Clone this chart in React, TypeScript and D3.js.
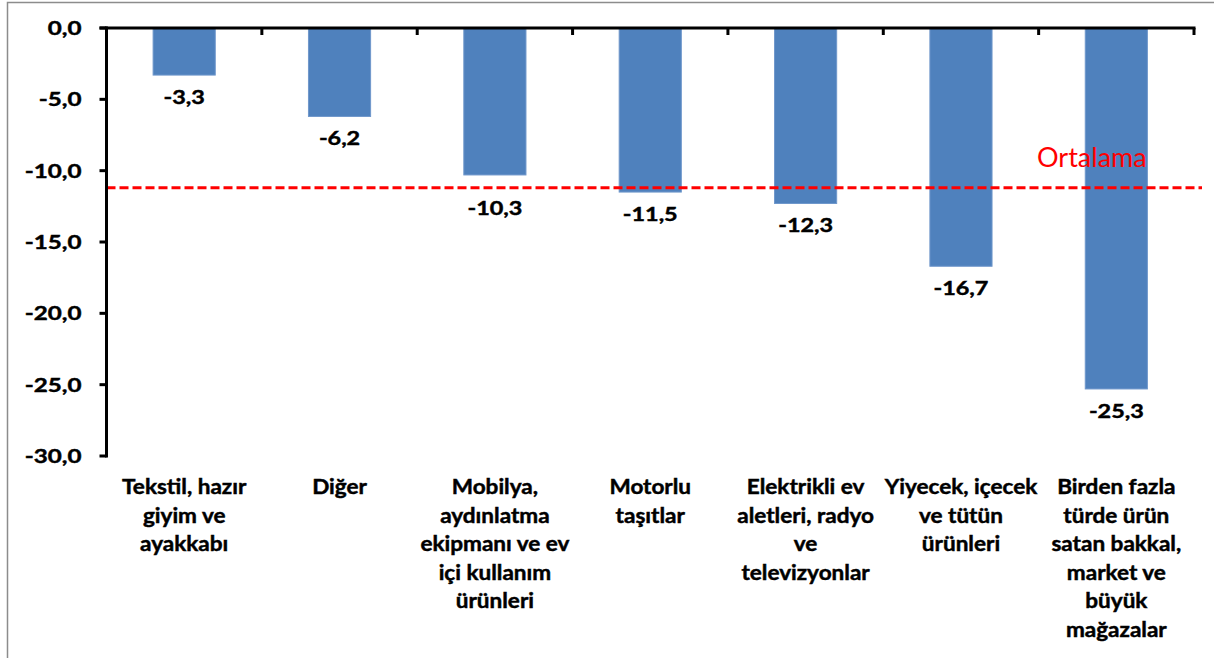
import React, { useMemo } from "react";
import * as d3 from "d3";

const WIDTH = 1214;
const HEIGHT = 658;

const categories = [
  ["Tekstil, hazır", "giyim ve", "ayakkabı"],
  ["Diğer"],
  ["Mobilya,", "aydınlatma", "ekipmanı ve ev", "içi kullanım", "ürünleri"],
  ["Motorlu", "taşıtlar"],
  ["Elektrikli ev", "aletleri, radyo", "ve", "televizyonlar"],
  ["Yiyecek, içecek", "ve tütün", "ürünleri"],
  ["Birden fazla", "türde ürün", "satan bakkal,", "market ve", "büyük", "mağazalar"],
];
const values = [-3.3, -6.2, -10.3, -11.5, -12.3, -16.7, -25.3];
const average = -11.2;
const averageLabel = "Ortalama";
const yTicks = [0, -5, -10, -15, -20, -25, -30];

const FONT = "Lato, 'Open Sans', sans-serif";
const fmt = (v: number) => v.toFixed(1).replace(".", ",");

// bold text, a bit wider and heavier than Lato to look like the original
const Bold = ({ x, y, size, sx, anchor, children }: any) => (
  <text
    transform={`translate(${x},${y}) scale(${sx},1)`}
    textAnchor={anchor}
    fontSize={size}
    fontWeight="bold"
    fill="#000"
    stroke="#000"
    strokeWidth={0.45}
  >
    {children}
  </text>
);

const App = () => {
  const left = 106.5;
  const right = 1194;
  const top = 28;
  const bottom = 456;

  const x = useMemo(
    () =>
      d3
        .scaleBand<number>()
        .domain(values.map((_, i) => i))
        .range([left, right])
        .paddingInner(0.6)
        .paddingOuter(0.3),
    []
  );
  const band = useMemo(
    () => d3.scaleBand<number>().domain(values.map((_, i) => i)).range([left, right]),
    []
  );
  const y = useMemo(() => d3.scaleLinear().domain([0, -30]).range([top, bottom]), []);
  const yAvg = y(average);

  // label under the bar end; moved below the average line when they would touch
  const labelY = (v: number) => {
    const base = y(v) + 29;
    if (base - 18 < yAvg + 2 && base + 2 > yAvg - 2) return yAvg + 27;
    return base;
  };

  return (
    <svg
      width={WIDTH}
      height={HEIGHT}
      style={{ position: "absolute", left: 0, top: 0, background: "white" }}
      fontFamily={FONT}
    >
      <rect x={7.5} y={2.5} width={WIDTH + 20} height={HEIGHT + 20} fill="white" stroke="#8c8c8c" strokeWidth={1.5} />

      {/* bars */}
      {values.map((v, i) => (
        <rect
          key={i}
          x={x(i)}
          y={y(0)}
          width={x.bandwidth()}
          height={y(v) - y(0)}
          fill="#4F81BD"
          stroke="#6f97cb"
          strokeWidth={1}
        />
      ))}

      {/* value labels */}
      {values.map((v, i) => (
        <Bold key={i} x={x(i)! + x.bandwidth() / 2} y={labelY(v)} size={19.5} sx={1.2} anchor="middle">
          {fmt(v)}
        </Bold>
      ))}

      {/* average line */}
      <line
        x1={left}
        x2={1202}
        y1={yAvg}
        y2={yAvg}
        stroke="#FF0000"
        strokeWidth={3}
        strokeDasharray="9 4"
      />
      <text x={1037} y={167} fontSize={27} fill="#FF0000">
        {averageLabel}
      </text>

      {/* y axis */}
      <line x1={left} x2={left} y1={top - 1.5} y2={bottom + 1.5} stroke="#000" strokeWidth={3} />
      {yTicks.map((t) => (
        <g key={t}>
          <line x1={left - 7} x2={left} y1={y(t)} y2={y(t)} stroke="#000" strokeWidth={3} />
          <Bold x={81.5} y={y(t) + 7} size={19.5} sx={1.24} anchor="end">
            {fmt(t)}
          </Bold>
        </g>
      ))}

      {/* x axis at zero */}
      <line x1={left - 7} x2={right + 1.5} y1={top} y2={top} stroke="#000" strokeWidth={3} />
      {d3.range(values.length + 1).map((i) => {
        const px = i < values.length ? band(i)! : right;
        return <line key={i} x1={px} x2={px} y1={top} y2={top + 7} stroke="#000" strokeWidth={3} />;
      })}

      {/* category labels */}
      {categories.map((lines, i) =>
        lines.map((l, j) => (
          <Bold
            key={`${i}-${j}`}
            x={band(i)! + band.bandwidth() / 2}
            y={494 + j * 28.6}
            size={20.5}
            sx={1.1}
            anchor="middle"
          >
            {l}
          </Bold>
        ))
      )}
    </svg>
  );
};

export default App;
